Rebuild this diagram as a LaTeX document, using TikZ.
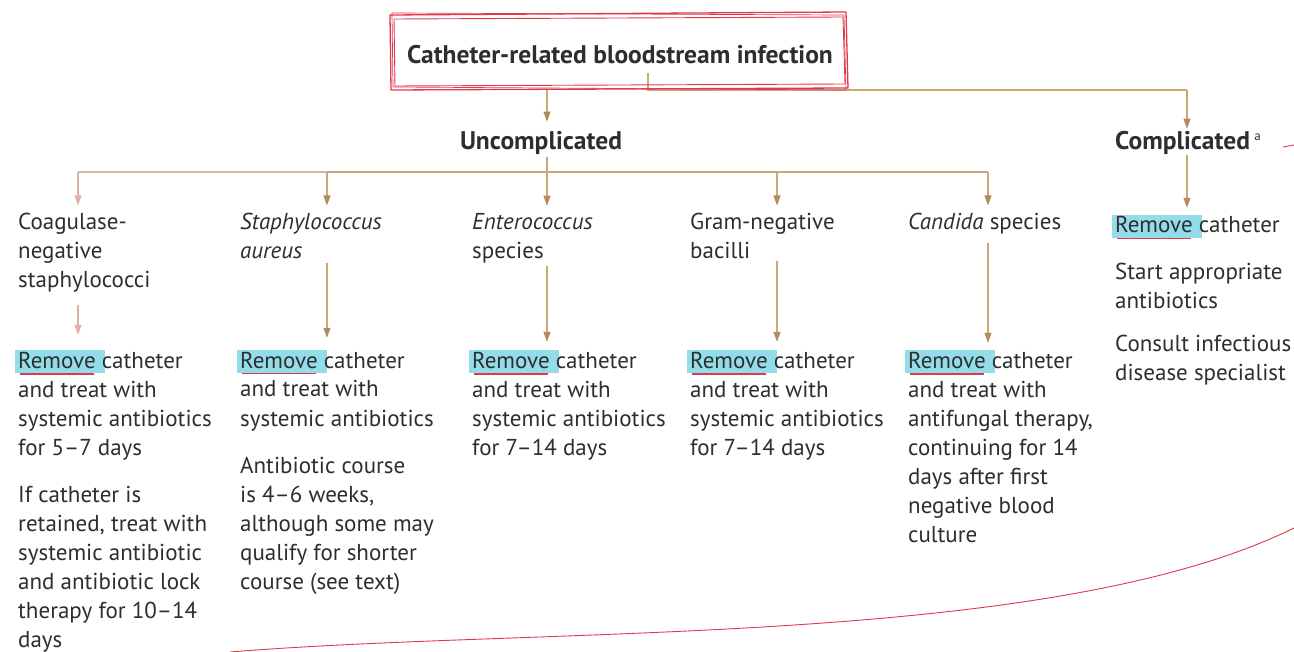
\documentclass[tikz,border=0pt]{standalone}
\usepackage{fontspec}
\setmainfont{PT Sans}
\usetikzlibrary{arrows.meta}
\definecolor{ink}{HTML}{2E2E2E}
\definecolor{tanline}{HTML}{CBA877}
\definecolor{tanhead}{HTML}{B08C5E}
\definecolor{pinkline}{HTML}{DDB0A8}
\definecolor{hlcyan}{HTML}{93DDEB}
\definecolor{penred}{HTML}{E2384E}
\newcommand{\remword}{\makebox[0pt][l]{\hspace{-3pt}\textcolor{hlcyan}{\rule[-5pt]{90pt}{23pt}}}\makebox[0pt][l]{\hspace{2pt}\textcolor{penred}{\rule[-6.5pt]{74pt}{1.6pt}}}Remove}
\begin{document}
\begin{tikzpicture}[x=1pt,y=-1pt,
  txt/.style={anchor=base west, inner sep=0pt, align=left, font=\fontsize{23}{29}\selectfont, text=ink},
  hd/.style={inner sep=0pt, font=\fontsize{25.5}{29}\selectfont\bfseries, text=ink},
  ln/.style={draw=tanline, line width=1.1pt},
  arr/.style={ln, -{Triangle[length=10pt,width=7pt,color=tanhead]}},
  parr/.style={draw=pinkline, line width=1.1pt, -{Triangle[length=10pt,width=7pt,color=pinkline]}},
  pen/.style={draw=penred, line width=1.3pt, line join=round},
  thinpen/.style={draw=penred, line width=0.9pt}]
\useasboundingbox (0,0) rectangle (1294,652);
\fill[white] (0,0) rectangle (1294,652);

% title and level-1 (base anchor = baseline of the last line)
\node[hd, anchor=base] (title) at (620,64) {Catheter-related bloodstream infection};
\node[hd, anchor=base] (unc) at (541,150) {Uncomplicated};
\node[hd, anchor=base west] (comp) at (1115,150) {Complicated\,{\fontsize{13}{13}\selectfont\mdseries\raisebox{9pt}{a}}};

% column heads
\node[txt] (h1) at (18,288) {Coagulase-\\negative\\staphylococci};
\node[txt] (h2) at (240,259) {\textit{Staphylococcus}\\\textit{aureus}};
\node[txt] (h3) at (472,259) {\textit{Enterococcus}\\species};
\node[txt] (h4) at (690,259) {Gram-negative\\bacilli};
\node[txt] (h5) at (908,230) {\textit{Candida} species};

% column bodies
\node[txt] (b1) at (18,455) {\remword{} catheter\\and treat with\\systemic antibiotics\\for 5--7 days};
\node[txt] (c1) at (18,647) {If catheter is\\retained, treat with\\systemic antibiotic\\and antibiotic lock\\therapy for 10--14\\days};
\node[txt] (b2) at (240,426) {\remword{} catheter\\and treat with\\systemic antibiotics};
\node[txt] (c2) at (240,589) {Antibiotic course\\is 4--6 weeks,\\although some may\\qualify for shorter\\course (see text)};
\node[txt] (b3) at (472,455) {\remword{} catheter\\and treat with\\systemic antibiotics\\for 7--14 days};
\node[txt] (b4) at (690,455) {\remword{} catheter\\and treat with\\systemic antibiotics\\for 7--14 days};
\node[txt] (b5) at (908,542) {\remword{} catheter\\and treat with\\antifungal therapy,\\continuing for 14\\days after first\\negative blood\\culture};
\node[txt] (r6) at (1115,233) {\remword{} catheter};
\node[txt] (s6) at (1115,309) {Start appropriate\\antibiotics};
\node[txt] (k6) at (1115,381) {Consult infectious\\disease specialist};

% connector coordinates
\coordinate (ux) at (547,88);
\coordinate (ub) at (547,172);
\coordinate (x1) at (78,172);
\coordinate (x2) at (327,172);
\coordinate (x4) at (777,172);
\coordinate (x5) at (988,172);
\coordinate (tc) at (648,90);
\coordinate (cx) at (1187,90);

% title -> uncomplicated
\draw[arr, shorten <=24pt, shorten >=10pt] (title.south -| ux) -- (unc.north -| ux);
% uncomplicated bus
\draw[ln, shorten <=2pt] (unc.south -| ub) -- (ub);
\draw[draw=pinkline, line width=1.1pt] (x1) -- (x2);
\draw[ln] (x2) -- (x5);
\draw[parr, shorten >=8pt] (x1) -- (x1 |- h1.north);
\draw[arr, shorten >=8pt] (x2) -- (x2 |- h2.north);
\draw[arr, shorten >=8pt] (ub) -- (ub |- h3.north);
\draw[arr, shorten >=8pt] (x4) -- (x4 |- h4.north);
\draw[arr, shorten >=8pt] (x5) -- (x5 |- h5.north);
% heads -> bodies
\draw[parr, shorten <=12pt, shorten >=15pt] (x1 |- h1.south) -- (x1 |- b1.north);
\draw[arr, shorten <=4pt, shorten >=12pt] (x2 |- h2.south) -- (x2 |- b2.north);
\draw[arr, shorten <=2pt, shorten >=8pt] (ub |- h3.south) -- (ub |- b3.north);
\draw[arr, shorten <=2pt, shorten >=8pt] (x4 |- h4.south) -- (x4 |- b4.north);
\draw[arr, shorten <=8pt, shorten >=7pt] (x5 |- h5.south) -- (x5 |- b5.north);
% complicated branch
\draw[ln, shorten <=8pt] (title.south -| tc) -- (tc) -- (cx);
\draw[arr, shorten >=3pt] (cx) -- (cx |- comp.north);
\draw[arr, shorten >=7pt] (cx |- comp.south) -- (cx |- r6.north);

% hand-drawn red pen marks
\draw[pen] (390,15) -- (846,12) -- (848,88) -- (391,90) -- cycle;
\draw[pen, line width=0.9pt] (394,19) -- (843,17) -- (845,84) -- (395,86) -- cycle;
\draw[pen, line width=0.7pt] (392,13) -- (844,15) -- (846,90) -- (393,87) -- cycle;
\draw[thinpen] (1283,147) -- (1294,145);
\draw[thinpen] (230,652) .. controls (550,626) and (1050,648) .. (1294,528);
\end{tikzpicture}
\end{document}
